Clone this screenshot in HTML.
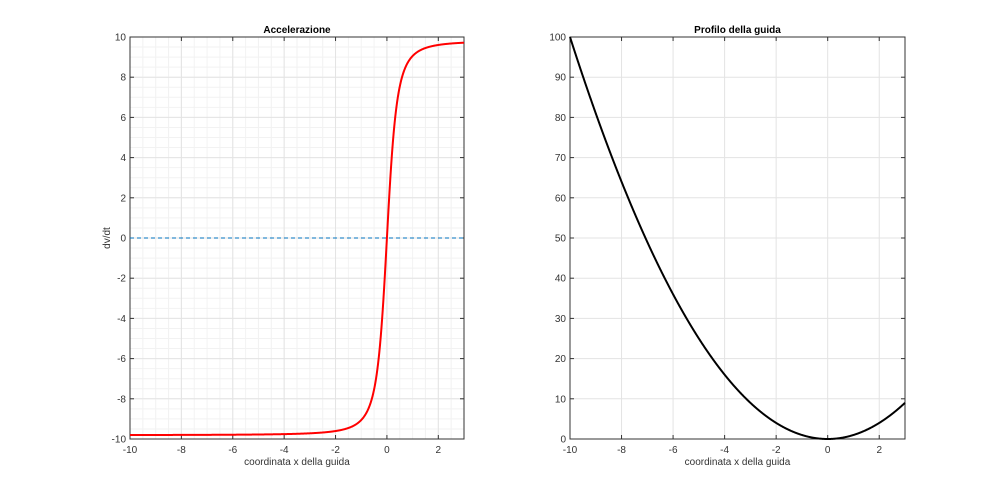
<!DOCTYPE html>
<html><head><meta charset="utf-8"><style>body{margin:0;background:#fff}svg{display:block;font-family:"Liberation Sans",sans-serif}</style></head>
<body>
<svg id="s" width="1000" height="494" xmlns="http://www.w3.org/2000/svg">
<rect width="1000" height="494" fill="#fff"/>
<g id="g"></g>
</svg>
<script>
const NS="http://www.w3.org/2000/svg",g=document.getElementById("g");
function el(t,a,txt){const e=document.createElementNS(NS,t);for(const k in a)e.setAttribute(k,a[k]);if(txt!==undefined)e.textContent=txt;g.appendChild(e);return e;}
function axes(x0,x1,y0,y1,xmin,xmax,ymin,ymax,xt,yt,minor,title,ylab){
 const X=v=>x0+(v-xmin)/(xmax-xmin)*(x1-x0),Y=v=>y1-(v-ymin)/(ymax-ymin)*(y1-y0);
 if(minor){for(let v=xmin;v<=xmax+1e-9;v+=0.5)el("line",{x1:X(v),x2:X(v),y1:y0,y2:y1,stroke:"#f2f2f2","stroke-width":1});
  for(let v=ymin;v<=ymax+1e-9;v+=0.5)el("line",{x1:x0,x2:x1,y1:Y(v),y2:Y(v),stroke:"#f2f2f2","stroke-width":1});}
 xt.forEach(v=>{el("line",{x1:X(v),x2:X(v),y1:y0,y2:y1,stroke:"#e3e3e3"});el("line",{x1:X(v),x2:X(v),y1:y1,y2:y1-4,stroke:"#333"});el("line",{x1:X(v),x2:X(v),y1:y0,y2:y0+4,stroke:"#333"});
  el("text",{x:X(v),y:y1+14,"font-size":10,"text-anchor":"middle",fill:"#333"},v);});
 yt.forEach(v=>{el("line",{x1:x0,x2:x1,y1:Y(v),y2:Y(v),stroke:"#e3e3e3"});el("line",{x1:x0,x2:x0+4,y1:Y(v),y2:Y(v),stroke:"#333"});el("line",{x1:x1,x2:x1-4,y1:Y(v),y2:Y(v),stroke:"#333"});
  el("text",{x:x0-4,y:Y(v)+3.5,"font-size":10,"text-anchor":"end",fill:"#333"},v);});
 el("rect",{x:x0,y:y0,width:x1-x0,height:y1-y0,fill:"none",stroke:"#333","stroke-width":1});
 el("text",{x:(x0+x1)/2,y:y0-4,"font-size":10,"font-weight":"bold","text-anchor":"middle",fill:"#000"},title);
 el("text",{x:(x0+x1)/2,y:y1+26,"font-size":10,"text-anchor":"middle",fill:"#333"},"coordinata x della guida");
 if(ylab){el("text",{x:0,y:0,"font-size":10,"text-anchor":"middle",fill:"#333",transform:`translate(${x0-20},${(y0+y1)/2}) rotate(-90)`},ylab);}
 return [X,Y];
}
let [X,Y]=axes(130,464,37,439,-10,3,-10,10,[-10,-8,-6,-4,-2,0,2],[-10,-8,-6,-4,-2,0,2,4,6,8,10],true,"Accelerazione","dv/dt");
el("line",{x1:130,x2:464,y1:Y(0),y2:Y(0),stroke:"#0072bd","stroke-dasharray":"4,3"});
let p="";for(let i=0;i<=1300;i++){const x=-10+i*0.01,k=2.4,a=9.81*k*x/Math.sqrt(1+k*k*x*x);p+=(i?"L":"M")+X(x).toFixed(2)+","+Y(a).toFixed(2);}
el("path",{d:p,fill:"none",stroke:"#f00","stroke-width":2});
[X,Y]=axes(570,905,37,439,-10,3,0,100,[-10,-8,-6,-4,-2,0,2],[0,10,20,30,40,50,60,70,80,90,100],false,"Profilo della guida");
p="";for(let i=0;i<=1300;i++){const x=-10+i*0.01;p+=(i?"L":"M")+X(x).toFixed(2)+","+Y(x*x).toFixed(2);}
el("path",{d:p,fill:"none",stroke:"#000","stroke-width":2});
</script>
</body></html>
